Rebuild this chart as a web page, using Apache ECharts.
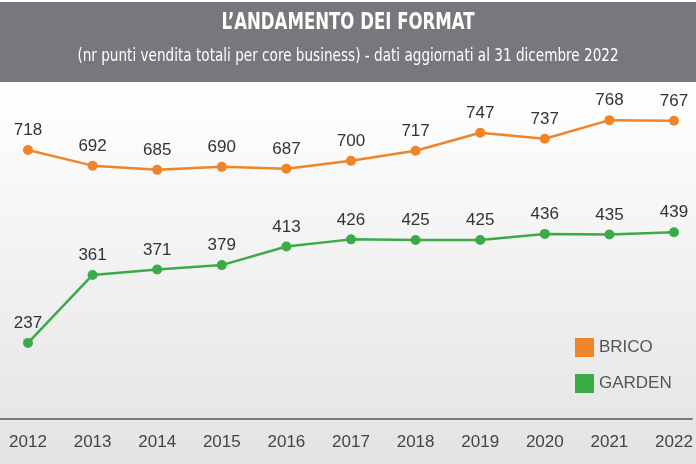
<!DOCTYPE html>
<html><head><meta charset="utf-8">
<script src="https://cdn.jsdelivr.net/npm/echarts@6/dist/echarts.min.js"></script>
<style>html,body{margin:0;padding:0;background:#fff}#c{width:696px;height:464px}</style>
</head><body><div id="c"></div>
<script>
const years = ['2012','2013','2014','2015','2016','2017','2018','2019','2020','2021','2022'];
const brico = [718,692,685,690,687,700,717,747,737,768,767];
const garden = [237,361,371,379,413,426,425,425,436,435,439];
const titleText = "L\u2019ANDAMENTO DEI FORMAT";
const subText = "(nr punti vendita totali per core business) - dati aggiornati al 31 dicembre 2022";

const ORANGE = '#F08428', GREEN = '#3BAA48';
const chart = echarts.init(document.getElementById('c'), null, {renderer:'canvas'});
const cond = "'DejaVu Sans Condensed','DejaVu Sans',sans-serif";
const lblFont = "'Liberation Sans','Open Sans',sans-serif";
chart.setOption({
  animation:false,
  backgroundColor:{type:'linear',x:0,y:0,x2:0,y2:1,colorStops:[{offset:0,color:'#ffffff'},{offset:0.25,color:'#fdfdfd'},{offset:1,color:'#e3e3e3'}]},
  graphic:[
    {type:'rect',left:0,top:2,shape:{width:696,height:80},style:{fill:'#77787b'},z:-1},
    {type:'text',x:348,y:23,scaleX:0.8,z:10,style:{text:titleText,fill:'#fff',font:"bold 23px "+cond,textAlign:'center',textVerticalAlign:'middle'}},
    {type:'text',x:348,y:56,scaleX:0.84,z:10,style:{text:subText,fill:'#fff',font:"18px "+cond,textAlign:'center',textVerticalAlign:'middle'}}
  ],
  legend:{
    orient:'vertical', left:570, top:333, itemWidth:19, itemHeight:19, itemGap:17, icon:'rect',
    textStyle:{fontFamily:lblFont,fontSize:17,color:'#555'},
    data:['BRICO','GARDEN']
  },
  grid:[{left:28,right:22,top:80,bottom:45},{left:0,right:4,top:80,bottom:45}],
  xAxis:[
    {type:'category',data:years,boundaryGap:false,gridIndex:0,
     axisLine:{show:false},axisTick:{show:false},
     axisLabel:{margin:15,fontFamily:lblFont,fontSize:17,color:'#444'}},
    {type:'value',gridIndex:1,min:0,max:1,axisLine:{show:true,lineStyle:{color:'#7a7a7a',width:2}},
     axisTick:{show:false},axisLabel:{show:false},splitLine:{show:false}}
  ],
  yAxis:[
    {type:'value',gridIndex:0,min:269,max:835,show:false},
    {type:'value',gridIndex:0,min:98,max:717,show:false},
    {type:'value',gridIndex:1,show:false}
  ],
  series:[
    {name:'BRICO',type:'line',data:brico,xAxisIndex:0,yAxisIndex:0,color:ORANGE,
     symbol:'circle',symbolSize:10,lineStyle:{width:2.5,color:ORANGE},itemStyle:{color:ORANGE},
     label:{show:true,position:'top',distance:6,fontFamily:lblFont,fontSize:17,color:'#333'}},
    {name:'GARDEN',type:'line',data:garden,xAxisIndex:0,yAxisIndex:1,color:GREEN,
     symbol:'circle',symbolSize:10,lineStyle:{width:2.5,color:GREEN},itemStyle:{color:GREEN},
     label:{show:true,position:'top',distance:6,fontFamily:lblFont,fontSize:17,color:'#333'}}
  ]
});
</script></body></html>
